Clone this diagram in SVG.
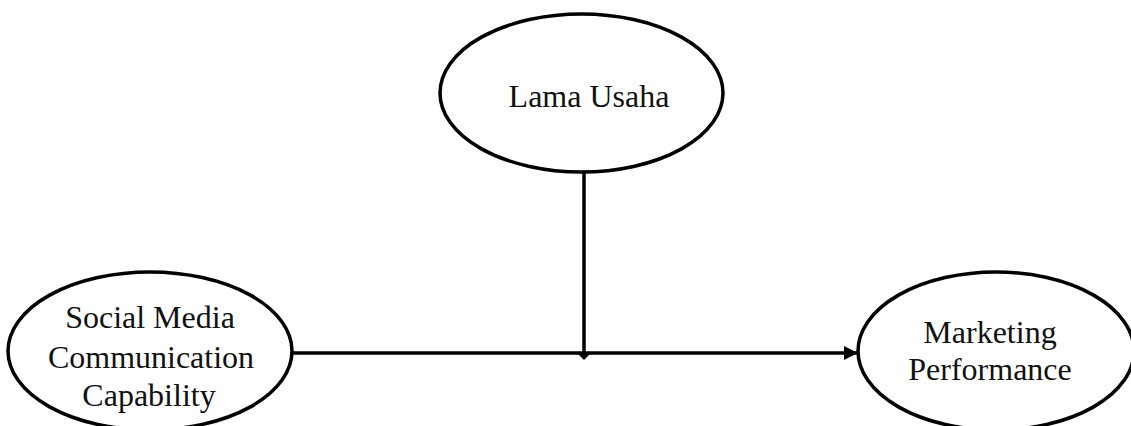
<svg xmlns="http://www.w3.org/2000/svg" width="1131" height="426" viewBox="0 0 1131 426">
  <style>
    .node { fill: #ffffff; stroke: #000000; stroke-width: 3.5; }
    .label { font-family: "Liberation Serif", "Times New Roman", serif; font-size: 32px; fill: #111111; text-anchor: middle; }
    .edge { fill: none; stroke: #000000; stroke-width: 3.5; }
  </style>
  <defs>
    <marker id="arrow" viewBox="0 0 10 10" refX="10" refY="5" markerWidth="4.4" markerHeight="4" markerUnits="strokeWidth" orient="auto">
      <path d="M0,0 L10,5 L0,10 z" fill="#000000"/>
    </marker>
  </defs>

  <g id="connectors">
    <line class="edge" x1="292" y1="353" x2="858" y2="353" marker-end="url(#arrow)"/>
    <line class="edge" x1="584" y1="172" x2="584" y2="353"/>
    <path d="M578,354 L590,354 L584,360 z" fill="#000000"/>
  </g>

  <g id="lama-usaha">
    <ellipse class="node" cx="581.5" cy="93" rx="141.5" ry="79"/>
    <text class="label" x="589" y="107" font-size="33">Lama Usaha</text>
  </g>

  <g id="social-media">
    <ellipse class="node" cx="150" cy="351" rx="142" ry="79"/>
    <text class="label" x="150" y="328">Social Media</text>
    <text class="label" x="151" y="368">Communication</text>
    <text class="label" x="149" y="406">Capability</text>
  </g>

  <g id="marketing-performance">
    <ellipse class="node" cx="996" cy="351" rx="138" ry="79"/>
    <text class="label" x="990" y="343">Marketing</text>
    <text class="label" x="990" y="380">Performance</text>
  </g>
</svg>
